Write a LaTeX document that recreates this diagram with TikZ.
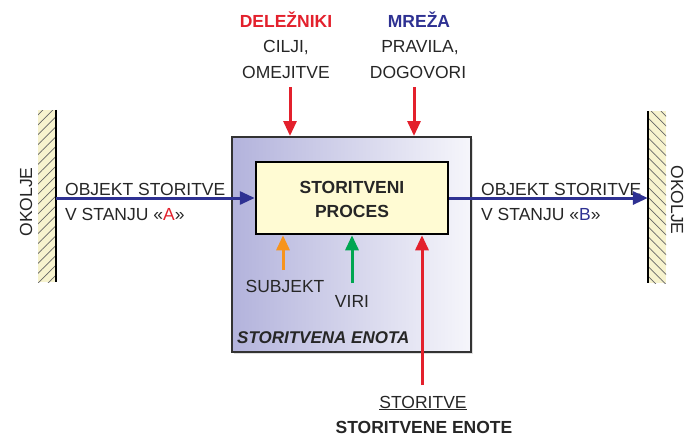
\documentclass[tikz,border=0pt]{standalone}
\usepackage{fontspec}
\setmainfont{Liberation Sans}
\usetikzlibrary{arrows.meta,patterns.meta,shadows}
\definecolor{cred}{HTML}{E3202C}
\definecolor{cblue}{HTML}{2E3192}
\definecolor{corange}{HTML}{F7941D}
\definecolor{cgreen}{HTML}{00A651}
\definecolor{ctext}{HTML}{262626}
\definecolor{cyellow}{HTML}{FFFBD3}
\definecolor{cwall}{HTML}{F7F3CE}
\definecolor{cleft}{HTML}{B3B3DC}
\definecolor{cright}{HTML}{F6F6FB}
\begin{document}
\begin{tikzpicture}[x=1pt,y=-1pt,
  txt/.style={font=\fontsize{17.5}{21}\selectfont, text=ctext, inner sep=0pt, anchor=base},
  btxt/.style={txt, font=\bfseries\fontsize{17.5}{21}\selectfont},
  arr/.style={line width=3pt, -{Triangle[length=15pt,width=13pt]}},
  wall/.style={fill=cwall, minimum width=18pt, minimum height=172pt, inner sep=0pt},
  edge/.style={line width=1.6pt, black}
]
\useasboundingbox (0,0) rectangle (685,440);

% walls
\node[wall, postaction={pattern={Lines[angle=45,distance=7pt,line width=0.7pt]}, pattern color=black!60}] (wallL) at (47,196) {};
\draw[edge] (wallL.north east) -- (wallL.south east);
\node[wall, postaction={pattern={Lines[angle=-45,distance=7pt,line width=0.7pt]}, pattern color=black!60}] (wallR) at (657,197) {};
\draw[edge] (wallR.north west) -- (wallR.south west);

\node[txt, rotate=90] (okL) at (32,202) {OKOLJE};
\node[txt, rotate=-90] (okR) at (671,200) {OKOLJE};

% boxes
\node[draw=black!80, line width=2pt, left color=cleft, right color=cright,
      minimum width=239pt, minimum height=215pt, inner sep=0pt,
      drop shadow={shadow xshift=2pt, shadow yshift=-2pt, opacity=0.25}] (unit) at (351.5,244.5) {};
\node[draw=black, line width=2.5pt, fill=cyellow, minimum width=192pt, minimum height=72pt, inner sep=0pt] (proc) at (352,198) {};

\node[btxt] (p1) at (352,193) {STORITVENI};
\node[btxt] (p2) at (352,217) {PROCES};

\node[txt, anchor=base west, font=\bfseries\itshape\fontsize{17}{21}\selectfont] (en) at (237,343) {STORITVENA ENOTA};

% top labels
\node[btxt, text=cred] (d1) at (286,27) {DELEŽNIKI};
\node[txt] (d2) at (286,52) {CILJI,};
\node[txt] (d3) at (286,78) {OMEJITVE};
\node[btxt, text=cblue] (m1) at (419,27) {MREŽA};
\node[txt] (m2) at (420,52) {PRAVILA,};
\node[txt] (m3) at (418,78) {DOGOVORI};

% side labels
\node[txt, anchor=base west] (la1) at (65,195) {OBJEKT STORITVE};
\node[txt, anchor=base west] (la2) at (65,220) {V STANJU «\textcolor{cred}{A}»};
\node[txt, anchor=base west] (lb1) at (481,195) {OBJEKT STORITVE};
\node[txt, anchor=base west] (lb2) at (481,220) {V STANJU «\textcolor{cblue}{B}»};

% bottom labels
\node[txt] (sub) at (285,292) {SUBJEKT};
\node[txt] (vir) at (352,307) {VIRI};
\node[txt] (s1) at (423,408) {\underline{STORITVE}};
\node[btxt] (s2) at (424,433) {STORITVENE ENOTE};

% arrows
\draw[arr, cblue] (wallL.east |- proc.west) -- (proc.west);
\draw[arr, cblue] (proc.east) -- (wallR.west |- proc.east);

\coordinate (tD) at (290,87);
\coordinate (tM) at (414,87);
\draw[arr, cred] (tD) -- (tD |- unit.north);
\draw[arr, cred] (tM) -- (tM |- unit.north);

\coordinate (tS) at (283,270);
\coordinate (tV) at (352,283);
\coordinate (tE) at (422,385);
\draw[arr, corange] (tS) -- (tS |- proc.south);
\draw[arr, cgreen] (tV) -- (tV |- proc.south);
\draw[arr, cred] (tE) -- (tE |- proc.south);
\end{tikzpicture}
\end{document}
